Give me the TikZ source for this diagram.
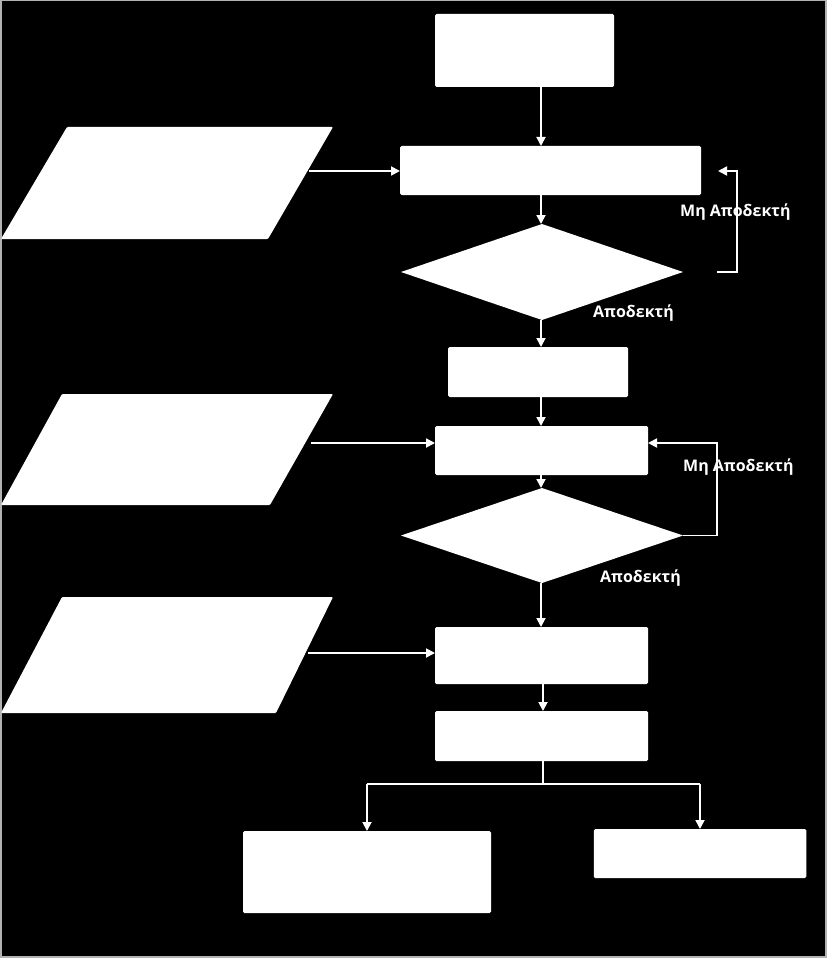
\documentclass[tikz,border=0pt]{standalone}
\usepackage{fontspec}
\setmainfont{Open Sans}
\usetikzlibrary{arrows.meta,shapes.geometric}
\tikzset{
  box/.style={fill=white, draw=none, rounded corners=1.5pt, inner sep=0pt, outer sep=0pt},
  dia/.style={diamond, fill=white, draw=none, inner sep=0pt, outer sep=0pt},
  con/.style={draw=white, line width=1.8pt},
  arr/.style={con, -{Triangle[length=9pt,width=9pt]}},
  lab/.style={text=white, font=\fontsize{16}{19}\selectfont\bfseries, inner sep=0pt, anchor=west},
}
\begin{document}
\begin{tikzpicture}[x=1pt,y=-1pt]
\useasboundingbox (0,0) rectangle (828,960);
\fill[white] (0,0) rectangle (828,960);
\filldraw[fill=black, draw=gray!60, line width=1.5pt] (0.75,0.75) rectangle (826,957);
% boxes
\node[box, minimum width=179, minimum height=73] (top) at (524.5,50.5) {};
\node[box, minimum width=301, minimum height=49] (A) at (550.5,170.5) {};
\node[dia, minimum width=282, minimum height=96] (D1) at (542,272) {};
\node[box, minimum width=180, minimum height=50] (B) at (538,372) {};
\node[box, minimum width=213, minimum height=49] (C) at (541.5,450.5) {};
\node[dia, minimum width=282, minimum height=95] (D2) at (542,535.5) {};
\node[box, minimum width=213, minimum height=57] (D) at (541.5,655.5) {};
\node[box, minimum width=213, minimum height=50] (E) at (541.5,736) {};
\node[box, minimum width=248, minimum height=82] (L) at (367,872) {};
\node[box, minimum width=212.5, minimum height=49] (R) at (700,853.5) {};
% parallelograms
\fill[white, rounded corners=1pt] (67,127) -- (333,127) -- (268,239) -- (1,239) -- cycle;
\fill[white, rounded corners=1pt] (62,394) -- (333,394) -- (270,505) -- (1,505) -- cycle;
\fill[white, rounded corners=1pt] (62,597) -- (333,597) -- (276,713) -- (1,713) -- cycle;
\coordinate (p1) at (309,171);
\coordinate (p2) at (311,443);
\coordinate (p3) at (308,653);
\coordinate (spine) at (541,0);
% main flow
\draw[arr] (top.south -| spine) -- (A.north -| spine);
\draw[arr] (A.south -| spine) -- (D1.north -| spine);
\draw[arr] (D1.south -| spine) -- (B.north -| spine);
\draw[arr] (B.south -| spine) -- (C.north -| spine);
\draw[arr] (C.south -| spine) -- (D2.north -| spine);
\draw[arr] (D2.south -| spine) -- (D.north -| spine);
\draw[arr] (D.south -| 543,0) -- (E.north -| 543,0);
% inputs
\draw[arr] (p1) -- (A.west |- p1);
\draw[arr] (p2) -- (C.west |- p2);
\draw[arr] (p3) -- (D.west |- p3);
% loops
\coordinate (l1s) at (717,272);
\coordinate (l1e) at (718,171);
\draw[arr] (l1s) -- (737,272) -- (737,171) -- (l1e);
\draw[arr] (D2.east) -- (717,535.5) -- (717,443) -- (C.east |- 0,443);
% split
\coordinate (sp) at (543,784);
\draw[con] (E.south -| sp) -- (sp);
\draw[con] (L.north |- sp) -- (R.north |- sp);
\draw[arr] (L.north |- sp) -- (L.north);
\draw[arr] (R.north |- sp) -- (R.north);
% labels
\node[lab] (m1) at (680,212) {Μη Αποδεκτή};
\node[lab] (a1) at (593,313) {Αποδεκτή};
\node[lab] (m2) at (683,467) {Μη Αποδεκτή};
\node[lab] (a2) at (600,578) {Αποδεκτή};
\end{tikzpicture}
\end{document}
